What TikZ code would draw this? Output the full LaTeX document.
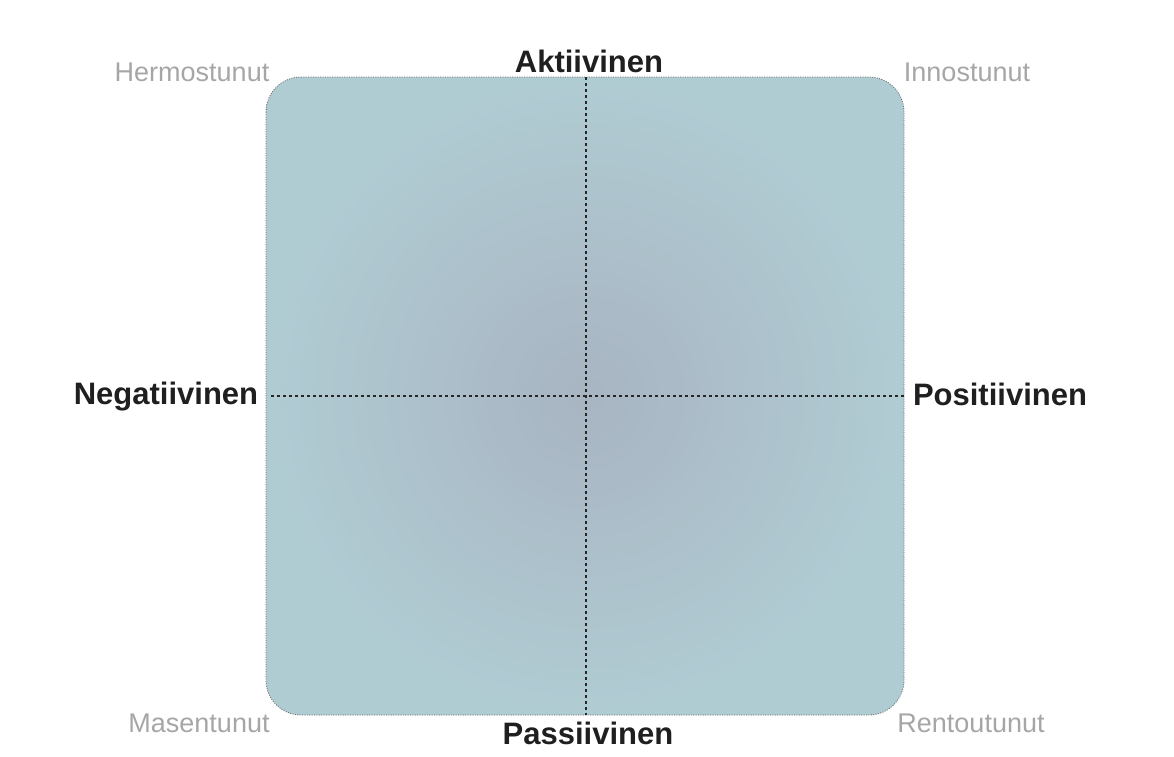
\documentclass[tikz,border=0pt]{standalone}
\usepackage{fontspec}
\setmainfont{Liberation Sans}
\begin{document}
\begin{tikzpicture}[x=1pt,y=-1pt,
  axislabel/.style={font=\fontsize{31}{31}\selectfont\bfseries, text=black!88, inner sep=0pt},
  moodlabel/.style={font=\fontsize{27}{27}\selectfont, text=black!35, inner sep=0pt},
  axisline/.style={line width=2.6pt, dash pattern=on 2.6pt off 3.4pt, black!85},
  panel/.style={draw=black!60, line width=0.8pt, dash pattern=on 1pt off 1.4pt, rounded corners=35pt,
    inner color={rgb,255:red,168;green,180;blue,194}, outer color={rgb,255:red,176;green,204;blue,211}}
]
\useasboundingbox (0,0) rectangle (1174,756);
\path[panel] (266,77) rectangle (904,715);
\coordinate (top) at (586,77);
\coordinate (bottom) at (586,715);
\coordinate (left) at (271,396);
\coordinate (right) at (904,396);
\draw[axisline] (top) -- (bottom);
\draw[axisline] (left) -- (right);
\node[axislabel] (akt) at (589,61) {Aktiivinen};
\node[axislabel] (pas) at (588,733) {Passiivinen};
\node[axislabel] (neg) at (166,397) {Negatiivinen};
\node[axislabel] (pos) at (1000,394) {Positiivinen};
\node[moodlabel] (her) at (192,72) {Hermostunut};
\node[moodlabel] (inn) at (967,72) {Innostunut};
\node[moodlabel] (mas) at (199,723) {Masentunut};
\node[moodlabel] (ren) at (971,723) {Rentoutunut};
\end{tikzpicture}
\end{document}
